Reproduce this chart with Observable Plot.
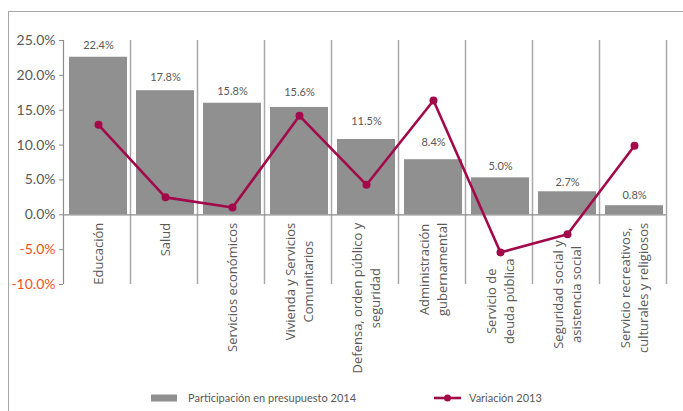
<!DOCTYPE html>
<html>
<head>
<meta charset="utf-8">
<script src="https://cdn.jsdelivr.net/npm/d3@7"></script>
<script src="https://cdn.jsdelivr.net/npm/@observablehq/plot@0.6"></script>
<style>
  html, body { margin: 0; padding: 0; background: #fff; }
  #chart { width: 683px; height: 411px; overflow: hidden; }
</style>
</head>
<body>
<div id="chart"></div>
<script>
// ---- Data ----
const categories = [
  "Educación",
  "Salud",
  "Servicios económicos",
  "Vivienda y Servicios\nComunitarios",
  "Defensa, orden público y\nseguridad",
  "Administración\ngubernamental",
  "Servicio de\ndeuda pública",
  "Seguridad social y\nasistencia social",
  "Servicio recreativos,\nculturales y religiosos"
];
// Bar heights as drawn (%)
const participacionBars = [22.6, 17.8, 16.0, 15.4, 10.8, 7.9, 5.3, 3.3, 1.3];
// Data labels printed above the bars (%)
const participacionLabels = [22.4, 17.8, 15.8, 15.6, 11.5, 8.4, 5.0, 2.7, 0.8];
// Line series: Variación 2013 (%)
const variacion2013 = [12.9, 2.5, 1.05, 14.2, 4.3, 16.4, -5.4, -2.8, 9.9];
// Y axis ticks (%)
const yTicks = [-10, -5, 0, 5, 10, 15, 20, 25];
const seriesNames = ["Participación en presupuesto 2014", "Variación 2013"];

const rows = categories.map((c, i) => ({
  cat: c,
  bar: participacionBars[i],
  label: participacionLabels[i],
  varia: variacion2013[i]
}));

const barColor = "#909090";
const lineColor = "#a2094b";
const textColor = "#595959";
const negColor = "#f4511e";
const fmt = d => d.toFixed(1) + "%";

const W = 683, H = 411;
const LABEL_GAP = 8;
const plot = Plot.plot({
  width: W,
  height: H,
  marginLeft: 63,
  marginRight: 17,
  marginTop: 40,
  marginBottom: 127,
  style: { fontFamily: "Lato, 'Open Sans', sans-serif", fontSize: "13px", color: textColor, background: "#fff" },
  x: { domain: categories, padding: 0, round: false, axis: null },
  y: { domain: [-10, 25], axis: null },
  marks: [
    Plot.barY(rows, { x: "cat", y: "bar", fill: barColor, insetLeft: 6, insetRight: 3 }),
    // category separators (right edges of bands)
    Plot.ruleX(rows, { x: "cat", dx: 33.5, stroke: "#a8a8a8", strokeWidth: 1.5 }),
    // left axis line (left edge of first band)
    Plot.ruleX([categories[0]], { dx: -33.5, stroke: "#8c8c8c", strokeWidth: 1.2 }),
    Plot.ruleY([0], { stroke: "#8c8c8c", strokeWidth: 1.2 }),
    Plot.axisY({
      ticks: yTicks,
      tickFormat: fmt,
      tickSize: 4,
      tickPadding: 4,
      fontSize: 14,
      stroke: "#8c8c8c",
      fill: d => d < 0 ? negColor : textColor
    }),
    Plot.text(rows, {
      x: "cat", y: "label", text: d => fmt(d.label),
      dy: -13.5, dx: 1.5, fontSize: 11, fill: textColor
    }),
    Plot.line(rows, { x: "cat", y: "varia", stroke: lineColor, strokeWidth: 2.6, dx: 1.5 }),
    Plot.dot(rows, { x: "cat", y: "varia", r: 4, fill: lineColor, dx: 1.5 }),
    Plot.text(rows, {
      x: "cat", y: () => 0, text: "cat",
      rotate: -90, textAnchor: "middle", lineAnchor: "middle", lineHeight: 1.4,
      dy: LABEL_GAP, fontSize: 13, fontFamily: "'Open Sans', Lato, sans-serif", fill: textColor
    })
  ]
});

document.getElementById("chart").appendChild(plot);

const svg = d3.select(plot);
const yScale = plot.scale("y");
const y0 = yScale.apply(0) + LABEL_GAP;

// Position category labels like the spreadsheet: longest line starts at the axis
// (or just below the line's marker when it dips under the axis), lines centered
const rotated = svg.selectAll("text").filter(function () {
  const tr = this.getAttribute("transform") || "";
  return tr.includes("rotate(-90");
});
rotated.each(function (_, i) {
  const t = d3.select(this);
  const spans = t.selectAll("tspan").nodes();
  let L = 0;
  if (spans.length) spans.forEach(s => { L = Math.max(L, s.getComputedTextLength()); });
  else L = this.getComputedTextLength();
  const dotBottom = yScale.apply(rows[i].varia) + 6;
  const shift = Math.max(0, dotBottom - y0);
  t.attr("text-anchor", "middle");
  t.attr("transform", t.attr("transform") + ` translate(${-(L / 2 + shift)},0)`);
});
// clip labels to the chart area like the reference
const defs = svg.insert("defs", ":first-child");
defs.append("clipPath").attr("id", "labclip").attr("clipPathUnits", "userSpaceOnUse")
  .append("rect").attr("x", 0).attr("y", 0).attr("width", W).attr("height", 369);
if (!rotated.empty()) {
  d3.select(rotated.node().parentNode).attr("clip-path", "url(#labclip)");
}

// outer border of the chart area
svg.insert("rect", "defs + *")
  .attr("x", 8.5).attr("y", 11.5).attr("width", W + 10).attr("height", H + 10)
  .attr("fill", "none").attr("stroke", "#a6a6a6").attr("stroke-width", 1);

// legend
const lg = svg.append("g")
  .attr("font-family", "Lato, 'Open Sans', sans-serif").attr("font-size", 11)
  .attr("fill", textColor).attr("text-anchor", "start");
const ly = 398;
lg.append("rect").attr("x", 151).attr("y", ly - 3.5).attr("width", 26).attr("height", 7).attr("fill", barColor);
lg.append("text").attr("x", 188).attr("y", ly).attr("dy", "0.35em").attr("text-anchor", "start").text(seriesNames[0]);
lg.append("line").attr("x1", 434).attr("x2", 461).attr("y1", ly).attr("y2", ly)
  .attr("stroke", lineColor).attr("stroke-width", 2.6);
lg.append("circle").attr("cx", 447.5).attr("cy", ly).attr("r", 3.5).attr("fill", lineColor);
lg.append("text").attr("x", 469).attr("y", ly).attr("dy", "0.35em").attr("text-anchor", "start").text(seriesNames[1]);
</script>
</body>
</html>
